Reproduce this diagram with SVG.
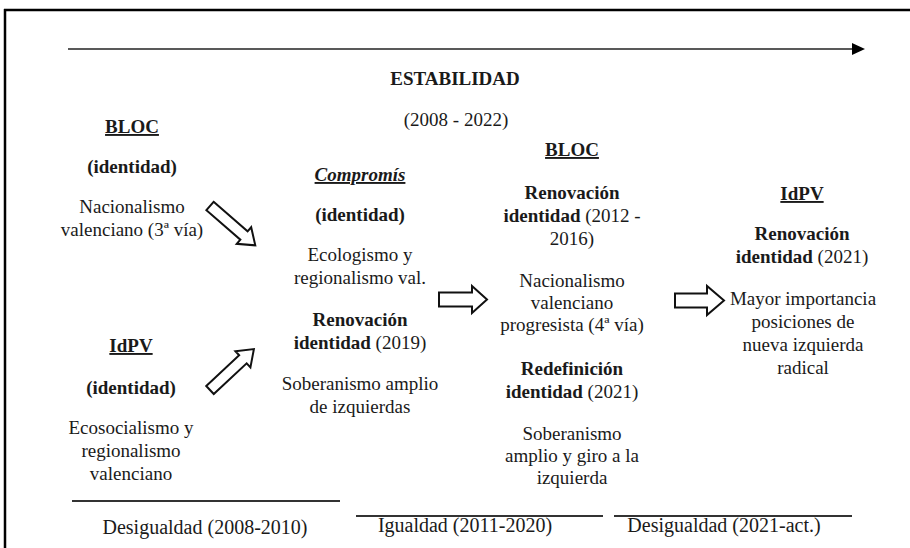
<svg xmlns="http://www.w3.org/2000/svg" width="910" height="548" viewBox="0 0 910 548">
<style>
text{font-family:"Liberation Serif","Times New Roman",serif;font-size:19px;fill:#1a1a1a;text-anchor:middle}
.b{font-weight:bold}
.u{text-decoration:underline}
.lg{font-size:20px}
.blk{fill:#fff;stroke:#111;stroke-width:2;stroke-linejoin:miter}
.rule{stroke:#333;stroke-width:2}
</style>
<defs>
<polygon id="blockL" class="blk" points="0,-5.5 45,-5.5 45,-11 60,0 45,11 45,5.5 0,5.5"/>
</defs>
<rect x="0" y="0" width="910" height="548" fill="#fff"/>
<g id="frame">
<line x1="4" y1="10" x2="910" y2="10" stroke="#000" stroke-width="2.5"/>
<line x1="5" y1="9" x2="5" y2="548" stroke="#000" stroke-width="2.5"/>
</g>
<g id="timeline">
<line x1="68" y1="49" x2="853" y2="49" stroke="#222" stroke-width="1.6"/>
<polygon points="852,43 865,49 852,55" fill="#000"/>
<text class="b" x="455" y="85">ESTABILIDAD</text>
<text x="456" y="126">(2008 - 2022)</text>
</g>
<g id="bloc1">
<text class="b u" x="132" y="133">BLOC</text>
<text class="b" x="132" y="173">(identidad)</text>
<text x="132" y="213">Nacionalismo</text>
<text x="132" y="236">valenciano (3ª vía)</text>
</g>
<g id="idpv1">
<text class="b u" x="131" y="352">IdPV</text>
<text class="b" x="131" y="394">(identidad)</text>
<text x="131" y="434">Ecosocialismo y</text>
<text x="131" y="457">regionalismo</text>
<text x="131" y="480">valenciano</text>
</g>
<g id="compromis">
<text class="b u" x="360" y="181" font-style="italic">Compromís</text>
<text class="b" x="360" y="221">(identidad)</text>
<text x="360" y="261">Ecologismo y</text>
<text x="360" y="284">regionalismo val.</text>
<text class="b" x="360" y="326">Renovación</text>
<text x="360" y="349"><tspan class="b">identidad</tspan> (2019)</text>
<text x="360" y="390">Soberanismo amplio</text>
<text x="360" y="413">de izquierdas</text>
</g>
<g id="bloc2">
<text class="b u" x="572" y="156">BLOC</text>
<text class="b" x="572" y="199">Renovación</text>
<text x="572" y="222"><tspan class="b">identidad</tspan> (2012 -</text>
<text x="572" y="245">2016)</text>
<text x="572" y="287">Nacionalismo</text>
<text x="572" y="309">valenciano</text>
<text x="572" y="331">progresista (4ª vía)</text>
<text class="b" x="572" y="375">Redefinición</text>
<text x="572" y="398"><tspan class="b">identidad</tspan> (2021)</text>
<text x="572" y="440">Soberanismo</text>
<text x="572" y="462">amplio y giro a la</text>
<text x="572" y="484">izquierda</text>
</g>
<g id="idpv2">
<text class="b u" x="802" y="200">IdPV</text>
<text class="b" x="802" y="240">Renovación</text>
<text x="802" y="263"><tspan class="b">identidad</tspan> (2021)</text>
<text x="803" y="305">Mayor importancia</text>
<text x="803" y="328">posiciones de</text>
<text x="803" y="351">nueva izquierda</text>
<text x="803" y="374">radical</text>
</g>
<g id="periods">
<line class="rule" x1="72" y1="501" x2="340" y2="501"/>
<line class="rule" x1="356" y1="516" x2="603" y2="516"/>
<line class="rule" x1="614" y1="516" x2="852" y2="516"/>
<text class="lg" x="205" y="534">Desigualdad (2008-2010)</text>
<text class="lg" x="465" y="532">Igualdad (2011-2020)</text>
<text class="lg" x="724" y="532">Desigualdad (2021-act.)</text>
</g>
<g id="connectors">
<use href="#blockL" transform="translate(210,206) rotate(41)"/>
<use href="#blockL" transform="translate(210,390) rotate(-43)"/>
<polygon class="blk" points="439,292.5 472,292.5 472,286 487,299.5 472,313 472,306.5 439,306.5"/>
<polygon class="blk" points="675,293.5 707,293.5 707,286 724,300.5 707,315 707,307.5 675,307.5"/>
</g>
</svg>
